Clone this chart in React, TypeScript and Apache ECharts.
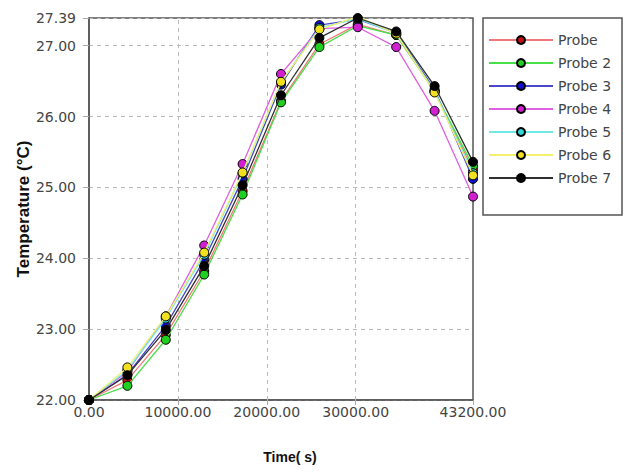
import React, { useEffect, useRef } from "react";
import * as echarts from "echarts";

const timeValues = [0, 4320, 8640, 12960, 17280, 21600, 25920, 30240, 34560, 38880, 43200];
const seriesNames = ["Probe", "Probe 2", "Probe 3", "Probe 4", "Probe 5", "Probe 6", "Probe 7"];
const probe1 = [22, 22.28, 22.92, 23.82, 24.95, 26.22, 27.02, 27.3, 27.15, 26.35, 25.25];
const probe2 = [22, 22.2, 22.85, 23.77, 24.9, 26.2, 26.98, 27.28, 27.15, 26.35, 25.3];
const probe3 = [22, 22.36, 23.05, 23.98, 25.12, 26.45, 27.29, 27.37, 27.18, 26.38, 25.12];
const probe4 = [22, 22.4, 23.18, 24.18, 25.33, 26.6, 27.24, 27.26, 26.98, 26.08, 24.87];
const probe5 = [22, 22.42, 23.15, 24.05, 25.2, 26.48, 27.25, 27.38, 27.17, 26.36, 25.2];
const probe6 = [22, 22.46, 23.18, 24.08, 25.21, 26.49, 27.23, 27.41, 27.17, 26.34, 25.17];
const probe7 = [22, 22.35, 22.99, 23.89, 25.03, 26.3, 27.11, 27.39, 27.2, 26.43, 25.36];
const xTickLabels = [0, 10000, 20000, 30000, 43200];
const xGridValues = [10000, 20000, 30000];

const lineColors = ["#f07878", "#48e048", "#4848c8", "#e060e0", "#70e8e8", "#f4f070", "#303030"];
const symbolColors = ["#c01010", "#20d020", "#1010d0", "#d020d0", "#30d8d8", "#f0e020", "#000000"];

export default function App() {
  const ref = useRef<HTMLDivElement>(null);
  useEffect(() => {
    if (!ref.current) return;
    const chart = echarts.init(ref.current, undefined, { renderer: "svg" });
    const all = [probe1, probe2, probe3, probe4, probe5, probe6, probe7];
    const series: any[] = all.map((vals, i) => ({
      name: seriesNames[i],
      type: "line",
      data: vals.map((v, j) => [timeValues[j], v]),
      symbol: "circle",
      symbolSize: 9,
      showSymbol: true,
      lineStyle: { color: lineColors[i], width: 1.3 },
      itemStyle: { color: symbolColors[i], borderColor: "#000", borderWidth: 1 },
      z: 3 + i,
    }));
    series[0].markLine = {
      silent: true,
      symbol: ["none", "none"],
      label: { show: false },
      lineStyle: { color: "#bbbbbb", type: [4, 4], width: 1 },
      z: 1,
      data: xGridValues.map((v) => ({ xAxis: v })),
    };
    chart.setOption({
      animation: false,
      backgroundColor: "#ffffff",
      grid: {
        left: 89,
        top: 18,
        right: 153,
        bottom: 76,
        show: true,
        borderColor: "#555",
        borderWidth: 1.5,
      },
      legend: {
        orient: "vertical",
        left: 483,
        top: 27,
        itemWidth: 64,
        itemHeight: 10,
        itemGap: 7,
        textStyle: { fontFamily: "DejaVu Sans", fontSize: 14, color: "#444", lineHeight: 16 },
        data: seriesNames,
      },
      graphic: [
        {
          type: "rect",
          shape: { x: 483, y: 18, width: 139, height: 197 },
          style: { fill: "none", stroke: "#555", lineWidth: 1.5 },
          silent: true,
        },
      ],
      xAxis: {
        type: "value",
        min: 0,
        max: 43200,
        name: "Time( s)",
        nameLocation: "middle",
        nameGap: 50,
        nameMoveOverlap: false,
        nameTextStyle: {
          fontFamily: "Liberation Sans",
          fontWeight: "bold",
          fontSize: 14,
          color: "#111",
          padding: [0, 0, 0, 18],
        },
        axisLine: { lineStyle: { color: "#555", width: 1.5 } },
        axisTick: { show: true, length: 5, lineStyle: { color: "#aaa" }, customValues: xTickLabels },
        axisLabel: {
          customValues: xTickLabels,
          formatter: (v: number) => v.toFixed(2),
          fontFamily: "DejaVu Sans",
          fontSize: 14,
          color: "#444",
          margin: 5,
          showMaxLabel: true,
        },
        splitLine: { show: false },
      },
      yAxis: {
        type: "value",
        min: 22,
        max: 27.39,
        interval: 1,
        name: "Temperature (°C)",
        nameLocation: "middle",
        nameGap: 57,
        nameMoveOverlap: false,
        nameTextStyle: {
          fontFamily: "Liberation Sans",
          fontWeight: "bold",
          fontSize: 17,
          color: "#111",
        },
        axisLine: { show: true, lineStyle: { color: "#555", width: 1.5 } },
        axisTick: { show: true, length: 6, lineStyle: { color: "#aaa" } },
        axisLabel: {
          formatter: (v: number) => v.toFixed(2),
          fontFamily: "DejaVu Sans",
          fontSize: 14,
          color: "#444",
          margin: 13,
          showMaxLabel: true,
          showMinLabel: true,
        },
        splitLine: { show: true, lineStyle: { color: "#bbbbbb", type: [4, 4], width: 1 } },
      },
      series,
    });
    return () => chart.dispose();
  }, []);
  return <div ref={ref} style={{ width: 626, height: 476, position: "absolute", left: 0, top: 0 }} />;
}
